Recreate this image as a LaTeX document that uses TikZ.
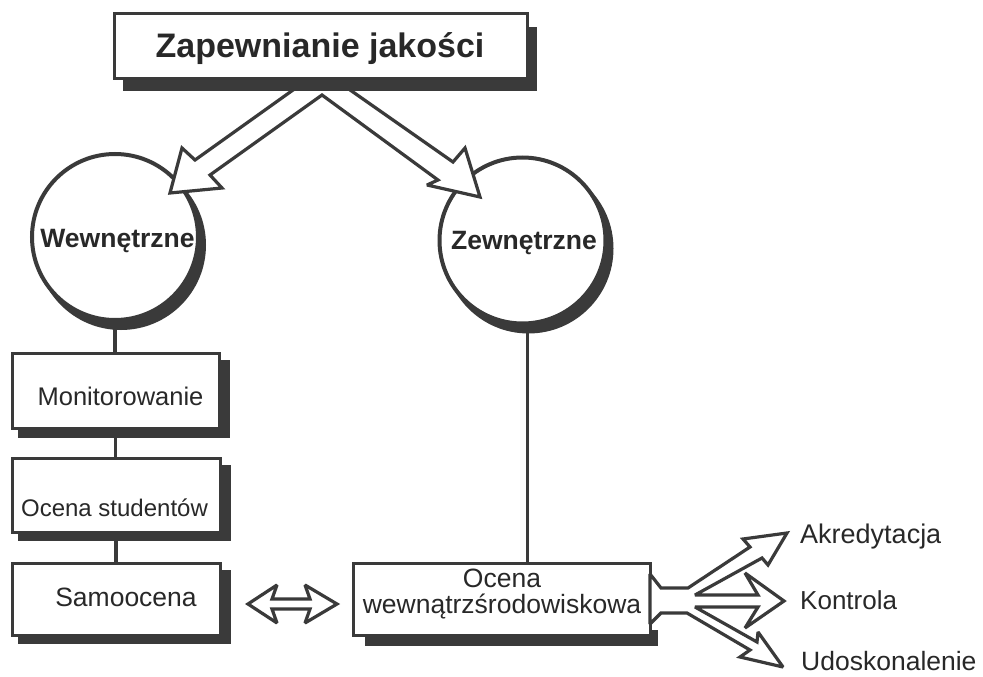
\documentclass[tikz,border=0pt]{standalone}
\usepackage{fontspec}
\setmainfont{Liberation Sans}
\definecolor{ink}{RGB}{58,58,58}
\definecolor{txtc}{RGB}{40,40,40}
\begin{document}
\begin{tikzpicture}[x=1pt,y=-1pt,
  frame/.style={draw=ink,line width=3pt,fill=white,rectangle,inner sep=0pt},
  ring/.style={draw=ink,line width=4pt,fill=white,circle,inner sep=0pt,minimum size=166pt},
  conn/.style={draw=ink,line width=3.5pt},
  hollow/.style={draw=ink,line width=3.2pt,fill=white,line join=miter,miter limit=2.5},
  lbl/.style={text=txtc,inner sep=0pt},
  shade/.style={fill=ink}]
\useasboundingbox[fill=white] (0,0) rectangle (983,677);

% circles with crescent shadows
\fill[shade] (121,245) circle[radius=85];
\node[ring] (wew) at (115,237) {};
\fill[shade] (528.5,248.5) circle[radius=85];
\node[ring] (zew) at (522.5,240.5) {};
\node[lbl,anchor=base,font=\fontsize{26.5}{30}\selectfont\bfseries] (wewt) at (117.5,247) {Wewnętrzne};
\node[lbl,anchor=base,font=\fontsize{26.5}{30}\selectfont\bfseries] (zewt) at (524,249) {Zewnętrzne};

% hollow chevron arrow from the title box
\draw[hollow] (300,85) -- (195,160) -- (182,148) -- (170,193) -- (222,188) -- (210,175)
  -- (322,95) -- (438,180) -- (427,185) -- (480,197) -- (465,148) -- (453,162) -- (343,85) -- cycle;

% title box
\fill[shade] (123,27) rectangle (537,91);
\node[frame,minimum width=413pt,minimum height=65pt] (title) at (320.5,46.5) {};
\node[lbl,anchor=base,font=\fontsize{34}{40}\selectfont\bfseries] (titlet) at (320,58) {Zapewnianie jakości};

% left column boxes
\fill[shade] (18,360) rectangle (230,438);
\node[frame,minimum width=207pt,minimum height=75pt] (mon) at (115.5,390.5) {};
\fill[shade] (18,465) rectangle (231,541);
\node[frame,minimum width=208pt,minimum height=74pt] (os) at (116,495) {};
\fill[shade] (18,570) rectangle (231,644);
\node[frame,minimum width=208pt,minimum height=72pt] (sam) at (116,599) {};

% bottom middle box
\fill[shade] (365,630) rectangle (658,646);
\node[frame,minimum width=297pt,minimum height=72pt] (oc) at (501.5,599) {};

% connectors
\draw[conn] (wew.south) -- (wew.south |- mon.north);
\draw[conn] (mon.south) -- (mon.south |- os.north);
\draw[conn] (os.south) -- (os.south |- sam.north);
\coordinate (zb) at ([xshift=5pt]zew.south);
\draw[conn] (zb) -- (zb |- oc.north);

% box texts
\node[lbl,anchor=base,font=\fontsize{25.5}{28}\selectfont] (mont) at (120.5,405) {Monitorowanie};
\node[lbl,anchor=base,font=\fontsize{24}{28}\selectfont] (ost) at (114.5,516) {Ocena studentów};
\node[lbl,anchor=base,font=\fontsize{26.5}{28}\selectfont] (samt) at (126,606) {Samoocena};
\node[lbl,align=center,font=\fontsize{26.5}{26}\selectfont] (oct) at (502,594) {Ocena\\wewnątrzśrodowiskowa};

% double hollow arrow
\draw[hollow] (248,604) -- (277,585) -- (272,599) -- (310,599) -- (305,585) -- (337,604)
  -- (305,623) -- (310,609) -- (272,609) -- (277,623) -- cycle;

% triple hollow arrow
\draw[hollow] (650,574) -- (661,588) -- (688,588) -- (750,547) -- (743,539) -- (787,533)
  -- (768,565) -- (762,558) -- (695,595) -- (758,595) -- (745,573) -- (784,601)
  -- (745,628) -- (758,607) -- (695,607) -- (757,642) -- (758,632) -- (783,667)
  -- (740,657) -- (750,650) -- (687,613) -- (661,613) -- (650,624) -- cycle;

% outcome labels
\node[lbl,anchor=base west,font=\fontsize{27}{30}\selectfont] (akr) at (800,543) {Akredytacja};
\node[lbl,anchor=base west,font=\fontsize{26}{30}\selectfont] (kon) at (800,609) {Kontrola};
\node[lbl,anchor=base west,font=\fontsize{26.5}{30}\selectfont] (udo) at (801,670) {Udoskonalenie};
\end{tikzpicture}
\end{document}
